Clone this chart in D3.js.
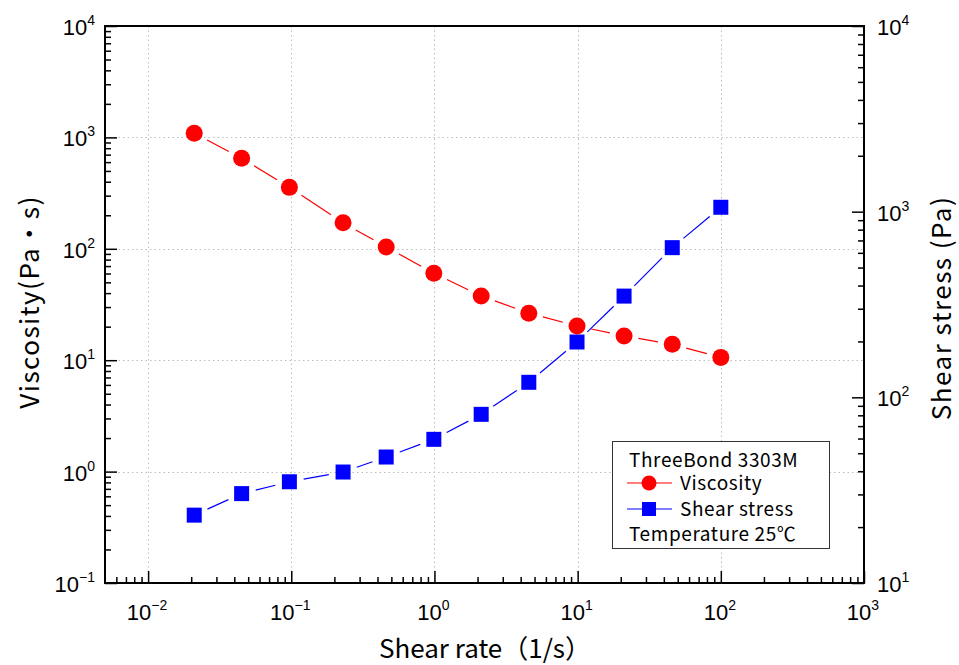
<!DOCTYPE html>
<html>
<head>
<meta charset="utf-8">
<script src="https://cdn.jsdelivr.net/npm/d3@7"></script>
<style>
  body { margin: 0; background: #fff; }
  svg { display: block; }
</style>
</head>
<body>
<svg id="chart"></svg>
<script>
// data
const shearRate = [0.021, 0.045, 0.097, 0.23, 0.46, 0.99, 2.12, 4.56, 9.9, 21.1, 45.8, 100];
const viscosity = [1089, 649, 356, 171, 104, 60.3, 37.7, 26.4, 20.3, 16.5, 13.9, 10.6];
const shearStress = [23.2, 30.3, 35.1, 39.6, 47.7, 59.4, 81, 120.5, 198.6, 351, 640, 1056];

const xTickExp = [-2, -1, 0, 1, 2, 3];
const yLeftTickExp = [-1, 0, 1, 2, 3, 4];
const yRightTickExp = [1, 2, 3, 4];

const legendTitle = "ThreeBond 3303M";
const legendNames = ["Viscosity", "Shear stress"];
const legendNote = "Temperature 25℃";

const width = 959;
const height = 665;
const margin = { left: 105, right: 95, top: 26, bottom: 82 };
const x0 = margin.left, x1 = width - margin.right;
const y0 = margin.top, y1 = height - margin.bottom;

const latin = "'Liberation Sans', Arial, sans-serif";
const jp = "'Noto Sans CJK JP', 'Noto Sans', sans-serif";

const svg = d3.select("#chart").attr("width", width).attr("height", height);

const x = d3.scaleLog().domain([0.005, 1000]).range([x0, x1]);
const yL = d3.scaleLog().domain([0.1, 10000]).range([y1, y0]);
const yR = d3.scaleLog().domain([10, 10000]).range([y1, y0]);

// minor ticks 2..9 for every decade of a scale
function minorTicks(scale) {
  const [a, b] = scale.domain();
  const out = [];
  for (let e = Math.floor(Math.log10(a)); e < Math.ceil(Math.log10(b)); e++) {
    for (let m = 2; m <= 9; m++) {
      const v = m * Math.pow(10, e);
      if (v > a * 1.0001 && v < b * 0.9999) out.push(v);
    }
  }
  return out;
}

//grid
const grid = svg.append("g").attr("stroke", "#bdbdbd").attr("stroke-width", 1)
  .attr("stroke-dasharray", "1.5,3");
grid.selectAll(".gx")
  .data(xTickExp.slice(0, -1).map((e) => Math.pow(10, e)))
  .enter().append("line")
  .attr("x1", (d) => Math.round(x(d)) + 0.5).attr("x2", (d) => Math.round(x(d)) + 0.5)
  .attr("y1", y0).attr("y2", y1);
grid.selectAll(".gy")
  .data(yLeftTickExp.slice(1, -1).map((e) => Math.pow(10, e)))
  .enter().append("line")
  .attr("y1", (d) => Math.round(yL(d)) + 0.5).attr("y2", (d) => Math.round(yL(d)) + 0.5)
  .attr("x1", x0).attr("x2", x1);

// line segments, trimmed so they stop short of the markers
function drawSegments(xs, ys, yScale, color) {
  const pts = xs.map((d, i) => [x(d), yScale(ys[i])]);
  const gap = 14.5;
  const segs = d3.pairs(pts).map(([p, q]) => {
    const dx = q[0] - p[0], dy = q[1] - p[1];
    const len = Math.hypot(dx, dy);
    const ux = dx / len, uy = dy / len;
    return [p[0] + ux * gap, p[1] + uy * gap, q[0] - ux * gap, q[1] - uy * gap];
  });
  svg.append("g").selectAll("line").data(segs).enter().append("line")
    .attr("x1", (d) => d[0]).attr("y1", (d) => d[1])
    .attr("x2", (d) => d[2]).attr("y2", (d) => d[3])
    .attr("stroke", color).attr("stroke-width", 1.2);
}
drawSegments(shearRate, viscosity, yL, "#ff0000");
drawSegments(shearRate, shearStress, yR, "#0000ff");

svg.append("g").selectAll("circle").data(shearRate).enter().append("circle")
  .attr("cx", (d) => x(d))
  .attr("cy", (d, i) => yL(viscosity[i]))
  .attr("r", 8.5)
  .attr("fill", "#ff0000");

svg.append("g").selectAll("rect").data(shearRate).enter().append("rect")
  .attr("x", (d) => x(d) - 7.5)
  .attr("y", (d, i) => yR(shearStress[i]) - 7.5)
  .attr("width", 15).attr("height", 15)
  .attr("fill", "#0000ff");

//creating Axis (ticks point inward)
function addAxis(axisFn, scale, transform, exps) {
  const major = exps.map((e) => Math.pow(10, e));
  svg.append("g").attr("transform", transform)
    .call(axisFn(scale).tickValues(minorTicks(scale)).tickSizeInner(-6).tickSizeOuter(0).tickFormat(""))
    .call((g) => g.select(".domain").remove())
    .call((g) => g.selectAll("line").attr("stroke-width", 1.5));
  svg.append("g").attr("transform", transform)
    .call(axisFn(scale).tickValues(major).tickSizeInner(-12).tickSizeOuter(0).tickFormat(""))
    .call((g) => g.select(".domain").remove())
    .call((g) => g.selectAll("line").attr("stroke-width", 1.5));
}
addAxis(d3.axisBottom, x, `translate(0,${y1})`, xTickExp);
addAxis(d3.axisLeft, yL, `translate(${x0},0)`, yLeftTickExp);
addAxis(d3.axisRight, yR, `translate(${x1},0)`, yRightTickExp);

// frame
svg.append("rect")
  .attr("x", x0).attr("y", y0)
  .attr("width", x1 - x0).attr("height", y1 - y0)
  .attr("fill", "none").attr("stroke", "#000").attr("stroke-width", 2);

// "10" with a superscript exponent
function powLabel(sel, exp) {
  sel.append("tspan").text("10");
  sel.append("tspan").attr("dy", -10).attr("font-size", 14)
    .text(exp < 0 ? "\u2212" + -exp : exp);
}

svg.append("g").selectAll("text").data(xTickExp).enter().append("text")
  .attr("x", (d) => x(Math.pow(10, d)) - 1)
  .attr("y", y1 + 37)
  .attr("text-anchor", "middle")
  .attr("font-family", latin).attr("font-size", 22)
  .each(function (d) { powLabel(d3.select(this), d); });

svg.append("g").selectAll("text").data(yLeftTickExp).enter().append("text")
  .attr("x", x0 - 10)
  .attr("y", (d) => yL(Math.pow(10, d)) + 9)
  .attr("text-anchor", "end")
  .attr("font-family", latin).attr("font-size", 22)
  .each(function (d) { powLabel(d3.select(this), d); });

svg.append("g").selectAll("text").data(yRightTickExp).enter().append("text")
  .attr("x", x1 + 13)
  .attr("y", (d) => yR(Math.pow(10, d)) + 9)
  .attr("text-anchor", "start")
  .attr("font-family", latin).attr("font-size", 22)
  .each(function (d) { powLabel(d3.select(this), d); });

// axis titles
svg.append("text")
  .attr("x", 485).attr("y", 658)
  .attr("text-anchor", "middle")
  .attr("font-family", jp).attr("font-size", 26)
  .text("Shear rate（1/s）");

svg.append("text")
  .attr("transform", `translate(39,302) rotate(-90)`)
  .attr("text-anchor", "middle")
  .attr("font-family", jp).attr("font-size", 26).attr("letter-spacing", 1.5)
  .text("Viscosity(Pa・s)");

svg.append("text")
  .attr("transform", `translate(951,308) rotate(-90)`)
  .attr("text-anchor", "middle")
  .attr("font-family", jp).attr("font-size", 26).attr("letter-spacing", 1.5)
  .text("Shear stress (Pa)");

//creating legends
const legend = svg.append("g").attr("font-family", jp).attr("font-size", 19)
  .attr("letter-spacing", 0.6);
legend.append("rect")
  .attr("x", 612.5).attr("y", 441.5).attr("width", 217).attr("height", 107)
  .attr("fill", "#fff").attr("stroke", "#333").attr("stroke-width", 1);
legend.append("text").attr("x", 629).attr("y", 467).text(legendTitle);

const rowY = [483, 509];
const colors = ["#ff0000", "#0000ff"];
legendNames.forEach((name, i) => {
  legend.append("line")
    .attr("x1", 627).attr("x2", 672).attr("y1", rowY[i]).attr("y2", rowY[i])
    .attr("stroke", colors[i]).attr("stroke-width", 1.2);
  if (i === 0) {
    legend.append("circle").attr("cx", 649).attr("cy", rowY[i]).attr("r", 7.5).attr("fill", colors[i]);
  } else {
    legend.append("rect").attr("x", 642).attr("y", rowY[i] - 7).attr("width", 14).attr("height", 14)
      .attr("fill", colors[i]);
  }
  legend.append("text").attr("x", 680).attr("y", rowY[i] + 7).text(name);
});
legend.append("text").attr("x", 629).attr("y", 541).text(legendNote);
</script>
</body>
</html>
